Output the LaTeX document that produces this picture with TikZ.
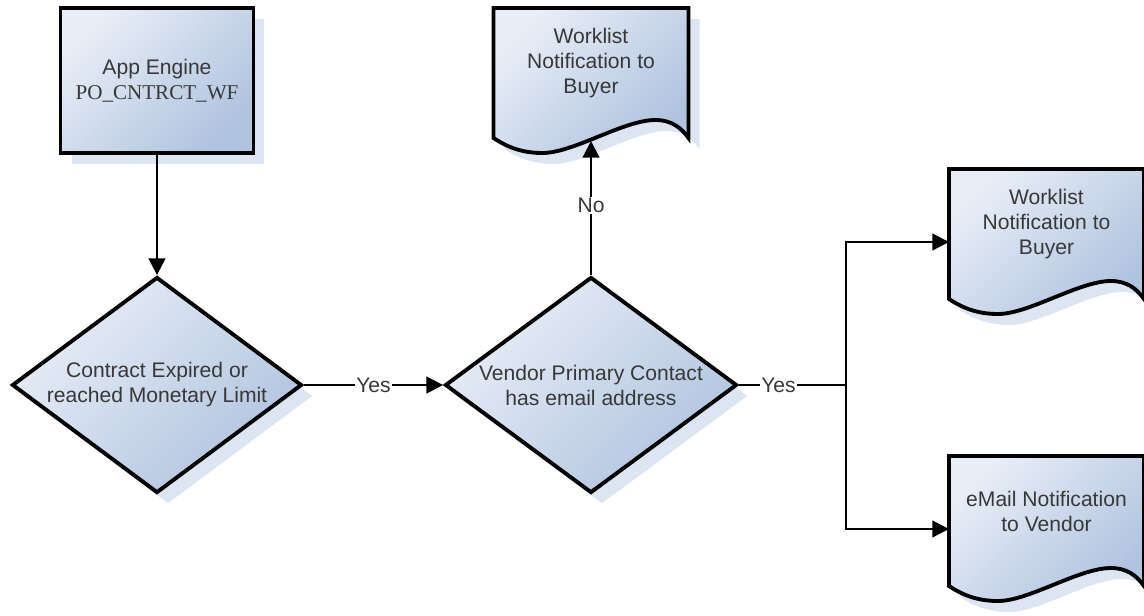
\documentclass[tikz,border=0pt]{standalone}
\usepackage{fontspec}
\setmainfont{Liberation Sans}
\newfontfamily\timesf{Liberation Serif}
\usetikzlibrary{shapes.geometric,arrows.meta,shadows}
\definecolor{gLight}{HTML}{E8EEF7}
\definecolor{gDark}{HTML}{B0C3DF}
\definecolor{shadowc}{HTML}{DCE5F2}
\definecolor{txt}{HTML}{383838}
\tikzset{
  shapefill/.style={top color=gLight, bottom color=gDark, shading angle=45, draw=black, line width=2.2pt},
  sh/.style={drop shadow={shadow xshift=0.22cm, shadow yshift=-0.22cm, fill=shadowc, opacity=1}},
  txtstyle/.style={text=txt, font=\fontsize{12}{14.2}\selectfont, align=center},
  conn/.style={line width=1.25pt},
  arr/.style={conn, -{Triangle[length=9.5pt,width=9.5pt]}},
  lbl/.style={fill=white, inner sep=0.6pt, text=txt, font=\fontsize{12}{14}\selectfont},
}
% #1 name, #2 x0, #3 y0 (top-left corner), #4 text
\newcommand{\mydoc}[4]{%
  \path[shapefill, sh] (#2,#3) -- ({#2+195},#3) -- ({#2+195},{#3+130})
     .. controls ({#2+188},{#3+120}) and ({#2+178},{#3+112}) .. ({#2+162},{#3+112})
     .. controls ({#2+130},{#3+112}) and ({#2+80},{#3+145}) .. ({#2+49},{#3+145})
     .. controls ({#2+30},{#3+145}) and ({#2+15},{#3+140}) .. (#2,{#3+130}) -- cycle;
  \node[txtstyle, inner sep=0pt] (#1) at ({#2+97.5},{#3+55}) {#4};
  \coordinate (#1-w) at (#2,{#3+73});
  \coordinate (#1-b) at ({#2+97.5},{#3+133});
}
\begin{document}
\begin{tikzpicture}[x=0.02cm, y=-0.02cm]
\useasboundingbox (0,0) rectangle (1144,616);

\node[shapefill, sh, rectangle, minimum width=3.86cm, minimum height=2.9cm, inner sep=0pt, txtstyle] (app) at (157,80.5)
  {App Engine\\{\timesf PO\_CNTRCT\_WF}};

\node[shapefill, sh, diamond, aspect=1.34, minimum width=5.8cm, minimum height=4.32cm, inner sep=0pt, txtstyle] (d1) at (157,385)
  {Contract Expired or\\reached Monetary Limit};
\node[shapefill, sh, diamond, aspect=1.34, minimum width=5.84cm, minimum height=4.32cm, inner sep=0pt, txtstyle] (d2) at (591,385)
  {Vendor Primary Contact\\has email address};

\mydoc{wla}{493.5}{8}{Worklist\\Notification to\\Buyer}
\mydoc{wlb}{949}{169}{Worklist\\Notification to\\Buyer}
\mydoc{em}{949}{456}{eMail Notification\\to Vendor}

\coordinate (j) at (846,385);
\draw[arr] (app.south) -- (d1.north);
\draw[arr] (d1.east) -- node[lbl, pos=0.5]{Yes} (d2.west);
\draw[arr] (d2.north) -- node[lbl, pos=0.52]{No} (wla-b);
\draw[conn] (d2.east) -- node[lbl, pos=0.37]{Yes} (j);
\draw[arr] (j) |- (wlb-w);
\draw[arr] (j) |- (em-w);
\end{tikzpicture}
\end{document}
